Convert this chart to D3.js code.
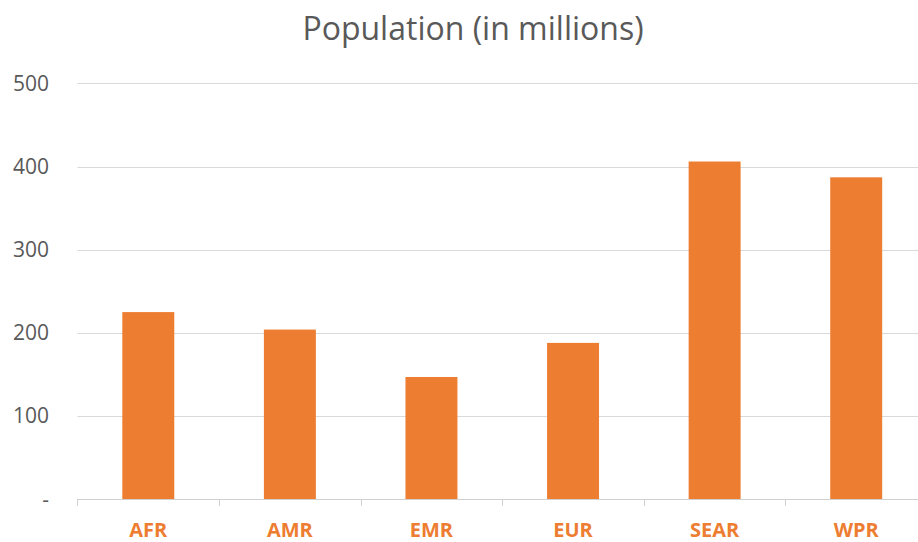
<!DOCTYPE html>
<html>
<head>
<meta charset="utf-8">
<script src="https://cdn.jsdelivr.net/npm/d3@7/dist/d3.min.js"></script>
<style>
  html, body { margin: 0; padding: 0; background: #fff; }
  svg { display: block; }
</style>
</head>
<body>
<svg id="chart" width="918" height="542"></svg>
<script>
// Population by WHO region, in millions
const regions = ["AFR", "AMR", "EMR", "EUR", "SEAR", "WPR"];
const population = [225, 204, 147, 188, 406, 387];
const yTicks = [0, 100, 200, 300, 400, 500];
const chartTitle = "Population (in millions)";

const W = 918, H = 542;
const plot = { left: 77.5, right: 927, top: 83.3, bottom: 499.3 };

const svg = d3.select("#chart");

const x = d3.scaleBand()
  .domain(regions)
  .range([plot.left, plot.right])
  .paddingInner(0.633)
  .paddingOuter(0.3165);

const y = d3.scaleLinear()
  .domain([0, 500])
  .range([plot.bottom, plot.top]);

const font = "'Open Sans', 'Noto Sans', sans-serif";

// horizontal gridlines
svg.append("g")
  .selectAll("line")
  .data(yTicks.filter(d => d > 0))
  .join("line")
  .attr("x1", plot.left)
  .attr("x2", plot.right)
  .attr("y1", d => Math.round(y(d)) + 0.5)
  .attr("y2", d => Math.round(y(d)) + 0.5)
  .attr("stroke", "#d9d9d9")
  .attr("stroke-width", 1);

// y-axis labels (zero is shown as a dash)
const yAxis = d3.axisLeft(y)
  .tickValues(yTicks)
  .tickSize(0)
  .tickPadding(0)
  .tickFormat(d => d === 0 ? "-" : d3.format("d")(d));

const yg = svg.append("g")
  .attr("transform", "translate(49,0)")
  .call(yAxis);
yg.select(".domain").remove();
yg.selectAll("text")
  .attr("fill", "#595959")
  .style("font-family", font)
  .style("font-size", "21px");

// bars
svg.append("g")
  .selectAll("rect")
  .data(regions.map((r, i) => ({ region: r, value: population[i] })))
  .join("rect")
  .attr("x", d => x(d.region))
  .attr("width", x.bandwidth())
  .attr("y", d => y(d.value))
  .attr("height", d => y(0) - y(d.value))
  .attr("fill", "#ED7D31");

// category axis with tick marks between categories
const step = x.step();
const boundaries = regions.map(r => x(r) - step * x.paddingInner() / 2);
boundaries.push(plot.right);

const xg = svg.append("g");
xg.append("line")
  .attr("x1", plot.left)
  .attr("x2", plot.right)
  .attr("y1", Math.round(plot.bottom) + 0.5)
  .attr("y2", Math.round(plot.bottom) + 0.5)
  .attr("stroke", "#d0d0d0")
  .attr("stroke-width", 1);
xg.selectAll("line.tick")
  .data(boundaries)
  .join("line")
  .attr("class", "tick")
  .attr("x1", d => Math.round(d) + 0.5)
  .attr("x2", d => Math.round(d) + 0.5)
  .attr("y1", Math.round(plot.bottom))
  .attr("y2", Math.round(plot.bottom) + 7)
  .attr("stroke", "#d0d0d0")
  .attr("stroke-width", 1);

xg.selectAll("text")
  .data(regions)
  .join("text")
  .attr("x", d => x(d) + x.bandwidth() / 2)
  .attr("y", 537)
  .attr("text-anchor", "middle")
  .attr("fill", "#ED7D31")
  .style("font-family", font)
  .style("font-weight", "bold")
  .style("font-size", "20px")
  .text(d => d);

// title
svg.append("text")
  .attr("x", 473)
  .attr("y", 40)
  .attr("text-anchor", "middle")
  .attr("fill", "#595959")
  .style("font-family", font)
  .style("font-size", "32px")
  .text(chartTitle);
</script>
</body>
</html>
